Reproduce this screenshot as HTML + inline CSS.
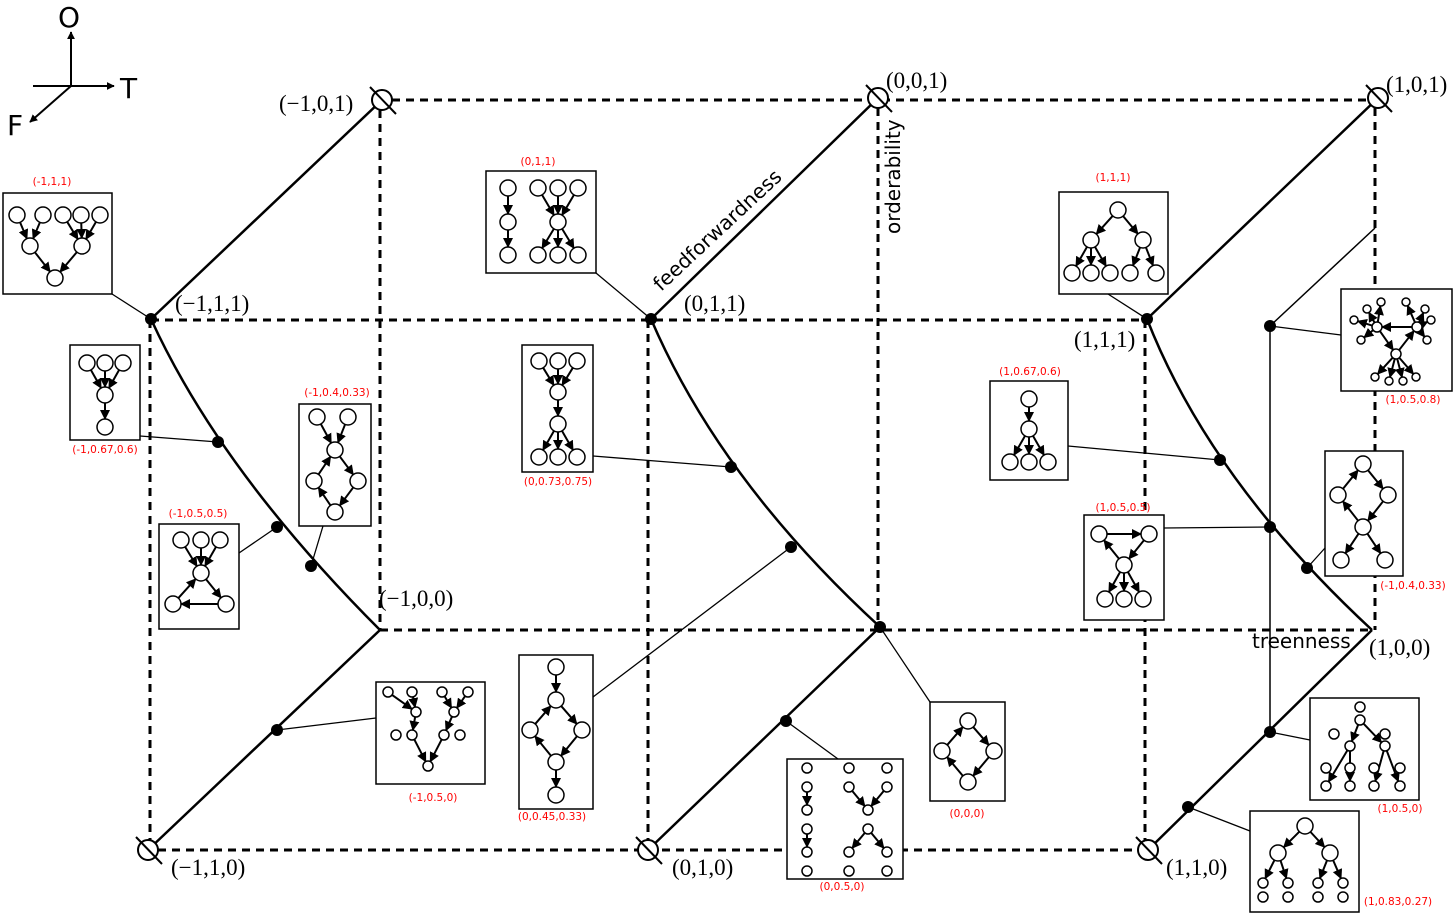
<!DOCTYPE html>
<html><head><meta charset="utf-8">
<style>
html,body{margin:0;padding:0;background:#fff;}
svg{display:block;}
.serif{font-family:"Liberation Serif",serif;font-size:23px;}
.sans{font-family:"DejaVu Sans","Liberation Sans",sans-serif;}
.red{font-family:"DejaVu Sans","Liberation Sans",sans-serif;font-size:10.5px;fill:#f00;}
</style></head>
<body>
<svg id="s" width="1454" height="914" viewBox="0 0 1454 914" xmlns="http://www.w3.org/2000/svg">
<defs>
<marker id="ah" viewBox="0 0 10 10" refX="9" refY="5" markerWidth="5" markerHeight="5" orient="auto"><path d="M0,0L10,5L0,10z" fill="#000"/></marker>
<marker id="ah2" viewBox="0 0 10 10" refX="9" refY="5" markerWidth="4" markerHeight="4" orient="auto"><path d="M0,0L10,5L0,10z" fill="#000"/></marker>
</defs>
<g stroke="#000" stroke-width="2" fill="none">
<line x1="71" y1="86" x2="71" y2="32" marker-end="url(#ah2)"/>
<line x1="33" y1="86" x2="114" y2="86" marker-end="url(#ah2)"/>
<line x1="71" y1="86" x2="30" y2="122" marker-end="url(#ah2)"/>
</g>
<text class="sans" x="58" y="27" font-size="28">O</text>
<text class="sans" x="120" y="98" font-size="28">T</text>
<text class="sans" x="7" y="135" font-size="28">F</text>

<g stroke="#000" stroke-width="3" stroke-dasharray="8,6" fill="none">
<line x1="392" y1="100" x2="1378" y2="100"/>
<line x1="151" y1="320" x2="1147" y2="320"/>
<line x1="380" y1="630" x2="1372" y2="630"/>
<line x1="158" y1="850" x2="1148" y2="850"/>
<line x1="150" y1="320" x2="150" y2="850"/>
<line x1="380" y1="110" x2="380" y2="630"/>
<line x1="648" y1="320" x2="648" y2="850"/>
<line x1="878" y1="108" x2="878" y2="630"/>
<line x1="1145" y1="320" x2="1145" y2="850"/>
<line x1="1375" y1="108" x2="1375" y2="630"/>
</g>

<g stroke="#000" stroke-width="2.5" fill="none">
<line x1="151" y1="319" x2="382" y2="100"/>
<line x1="651" y1="319" x2="878" y2="98"/>
<line x1="1147" y1="319" x2="1378" y2="98"/>
<line x1="148" y1="850" x2="380" y2="630"/>
<line x1="648" y1="850" x2="880" y2="627"/>
<line x1="1148" y1="850" x2="1372" y2="630"/>
<path d="M151,319 Q220,470 380,630"/>
<path d="M651,319 Q720,480 880,627"/>
<path d="M1147,319 Q1210,480 1372,630"/>
</g>
<g stroke="#000" stroke-width="1.5" fill="none">
<line x1="1270" y1="326" x2="1270" y2="732"/>
<line x1="1270" y1="326" x2="1375" y2="228"/>
</g>

<g id="markers" stroke="#000" stroke-width="2" fill="#fff"></g>
<g id="dots" fill="#000"></g>
<g id="boxes"></g>

<g class="serif">
<text x="279" y="111">(−1,0,1)</text>
<text x="175" y="311">(−1,1,1)</text>
<text x="886" y="88">(0,0,1)</text>
<text x="684" y="311">(0,1,1)</text>
<text x="1386" y="92">(1,0,1)</text>
<text x="1074" y="347">(1,1,1)</text>
<text x="379" y="606">(−1,0,0)</text>
<text x="1369" y="655">(1,0,0)</text>
<text x="171" y="875">(−1,1,0)</text>
<text x="672" y="875">(0,1,0)</text>
<text x="1166" y="875">(1,1,0)</text>
</g>
<text class="sans" font-size="20" transform="translate(661,292) rotate(-43)">feedforwardness</text>
<text class="sans" font-size="20" transform="translate(900,234) rotate(-90)">orderability</text>
<text class="sans" font-size="20" x="1252" y="648">treenness</text>
</svg>
<script>
const NS="http://www.w3.org/2000/svg";
const svg=document.getElementById('s');
function mk(tag,attrs,parent){const e=document.createElementNS(NS,tag);for(const k in attrs)e.setAttribute(k,attrs[k]);parent.appendChild(e);return e;}
const markerPts=[[382,100],[878,98],[1378,98],[148,850],[648,850],[1148,850]];
const mg=document.getElementById('markers');
markerPts.forEach(p=>{
  const c=mk('circle',{cx:p[0],cy:p[1],r:10},mg);
  
  
  mk('line',{x1:p[0]-12,y1:p[1]-13,x2:p[0]+14,y2:p[1]+14},mg);
});
const dotPts=[[151,319],[218,442],[277,527],[311,566],[277,730],[651,319],[731,467],[791,547],[880,627],[786,721],[1147,319],[1220,460],[1270,527],[1307,568],[1270,326],[1270,732],[1188,807]];
const dg=document.getElementById('dots');
dotPts.forEach(p=>{
  const c=mk('circle',{cx:p[0],cy:p[1],r:6},dg);
  
  
});
const boxes=[
 [3,193,109,101,"(-1,1,1)",52,185,[112,294,151,319],[[14,22,8],[40,22,8],[60,22,8],[78,22,8],[97,22,8],[27,53,8],[79,53,8],[52,85,8]],[[0,5],[1,5],[2,6],[3,6],[4,6],[5,7],[6,7]]],
 [70,345,70,95,"(-1,0.67,0.6)",105,453,[140,436,218,442],[[17,18,8],[35,18,8],[53,18,8],[35,50,8],[35,82,8]],[[0,3],[1,3],[2,3],[3,4]]],
 [299,404,72,122,"(-1,0.4,0.33)",337,396,[323,526,311,566],[[18,13,8],[49,13,8],[36,46,8],[15,77,8],[59,77,8],[36,108,8]],[[0,2],[1,2],[2,4],[4,5],[5,3],[3,2]]],
 [159,524,80,105,"(-1,0.5,0.5)",198,517,[239,553,277,527],[[22,16,8],[42,16,8],[61,16,8],[42,49,8],[14,80,8],[67,80,8]],[[0,3],[1,3],[2,3],[3,5],[5,4],[4,3]]],
 [376,682,109,102,"(-1,0.5,0)",433,801,[376,718,277,730],[[12,10,5],[36,10,5],[66,10,5],[92,10,5],[20,53,5],[36,53,5],[68,53,5],[84,53,5],[52,84,5],[40,30,5],[78,30,5]],[[0,9],[1,9],[2,10],[3,10],[9,5],[10,6],[5,8],[6,8]]],
 [486,171,110,102,"(0,1,1)",538,165,[596,273,651,319],[[22,17,8],[22,51,8],[22,84,8],[52,17,8],[72,17,8],[92,17,8],[72,51,8],[52,84,8],[72,84,8],[92,84,8]],[[0,1],[1,2],[3,6],[4,6],[5,6],[6,7],[6,8],[6,9]]],
 [522,345,71,127,"(0,0.73,0.75)",558,485,[593,456,731,467],[[17,16,8],[36,16,8],[55,16,8],[36,47,8],[36,79,8],[17,112,8],[36,112,8],[55,112,8]],[[0,3],[1,3],[2,3],[3,4],[4,5],[4,6],[4,7]]],
 [519,655,74,154,"(0,0.45,0.33)",552,820,[593,697,791,547],[[37,12,8],[37,45,8],[11,75,8],[63,75,8],[37,107,8],[37,140,8]],[[0,1],[1,3],[3,4],[4,2],[2,1],[4,5]]],
 [787,759,116,120,"(0,0.5,0)",842,890,[838,759,786,721],[[20,9,5],[20,28,5],[20,51,5],[20,70,5],[20,93,5],[20,112,5],[62,9,5],[62,28,5],[100,9,5],[100,28,5],[81,51,5],[81,70,5],[62,93,5],[62,112,5],[100,93,5],[100,112,5]],[[1,2],[3,4],[7,10],[9,10],[11,12],[11,14]]],
 [930,702,75,99,"(0,0,0)",967,817,[930,702,880,627],[[38,19,8],[12,49,8],[64,49,8],[38,80,8]],[[0,2],[2,3],[3,1],[1,0]]],
 [1059,192,109,102,"(1,1,1)",1113,181,[1108,294,1147,319],[[59,18,8],[32,48,8],[84,48,8],[13,81,8],[32,81,8],[51,81,8],[71,81,8],[97,81,8]],[[0,1],[0,2],[1,3],[1,4],[1,5],[2,6],[2,7]]],
 [990,381,78,99,"(1,0.67,0.6)",1030,375,[1068,446,1220,460],[[39,18,8],[39,48,8],[20,81,8],[39,81,8],[58,81,8]],[[0,1],[1,2],[1,3],[1,4]]],
 [1084,515,80,105,"(1,0.5,0.5)",1123,511,[1164,528,1270,527],[[15,19,8],[65,19,8],[40,50,8],[21,84,8],[40,84,8],[59,84,8]],[[0,1],[1,2],[2,0],[2,3],[2,4],[2,5]]],
 [1341,289,111,102,"(1,0.5,0.8)",1413,403,[1341,335,1270,326],[[36,38,5],[76,38,5],[55,65,5],[13,31,4],[20,51,4],[26,20,4],[40,13,4],[65,13,4],[84,20,4],[90,31,4],[86,51,4],[34,88,4],[48,92,4],[62,92,4],[75,88,4]],[[1,0],[0,2],[2,1],[0,3],[0,4],[0,5],[0,6],[1,7],[1,8],[1,9],[1,10],[2,11],[2,12],[2,13],[2,14]]],
 [1325,451,78,125,"(-1,0.4,0.33)",1413,589,[1325,548,1307,568],[[38,13,8],[13,44,8],[63,44,8],[38,76,8],[16,109,8],[60,109,8]],[[1,0],[0,2],[2,3],[3,1],[3,4],[3,5]]],
 [1310,698,109,102,"(1,0.5,0)",1400,812,[1310,740,1270,732],[[50,9,5],[50,22,5],[24,36,5],[40,48,5],[75,36,5],[75,48,5],[16,70,5],[16,88,5],[40,70,5],[40,88,5],[64,70,5],[64,88,5],[90,70,5],[90,88,5]],[[1,3],[1,5],[3,7],[3,9],[5,11],[5,13]]],
 [1250,811,109,101,"(1,0.83,0.27)",1398,905,[1250,831,1188,807],[[55,15,8],[28,42,8],[80,42,8],[13,72,5],[13,86,5],[38,72,5],[38,86,5],[68,72,5],[68,86,5],[93,72,5],[93,86,5]],[[0,1],[0,2],[1,3],[1,5],[2,7],[2,9]]]
];
const bg=document.getElementById('boxes');
boxes.forEach(b=>{
  const [x,y,w,h,lab,lx,ly,con,nodes,edges]=b;
  const g=mk('g',{},bg);
  
  
  mk('line',{x1:con[0],y1:con[1],x2:con[2],y2:con[3],stroke:'#000','stroke-width':1.3},g);
  mk('rect',{x:x,y:y,width:w,height:h,fill:'#fff',stroke:'#000','stroke-width':1.5},g);
  edges.forEach(e=>{
    const a=nodes[e[0]],c=nodes[e[1]];
    const dx=c[0]-a[0],dy=c[1]-a[1],L=Math.hypot(dx,dy)||1;
    mk('line',{x1:x+a[0]+dx/L*a[2],y1:y+a[1]+dy/L*a[2],x2:x+c[0]-dx/L*c[2],y2:y+c[1]-dy/L*c[2],stroke:'#000','stroke-width':2,'marker-end':'url(#ah)'},g);
  });
  nodes.forEach(n=>{mk('circle',{cx:x+n[0],cy:y+n[1],r:n[2],fill:'#fff',stroke:'#000','stroke-width':1.5},g);});
  const t=mk('text',{x:lx,y:ly,'text-anchor':'middle',class:'red'},g);
  t.textContent=lab;
  
  
});
</script>
</body></html>
